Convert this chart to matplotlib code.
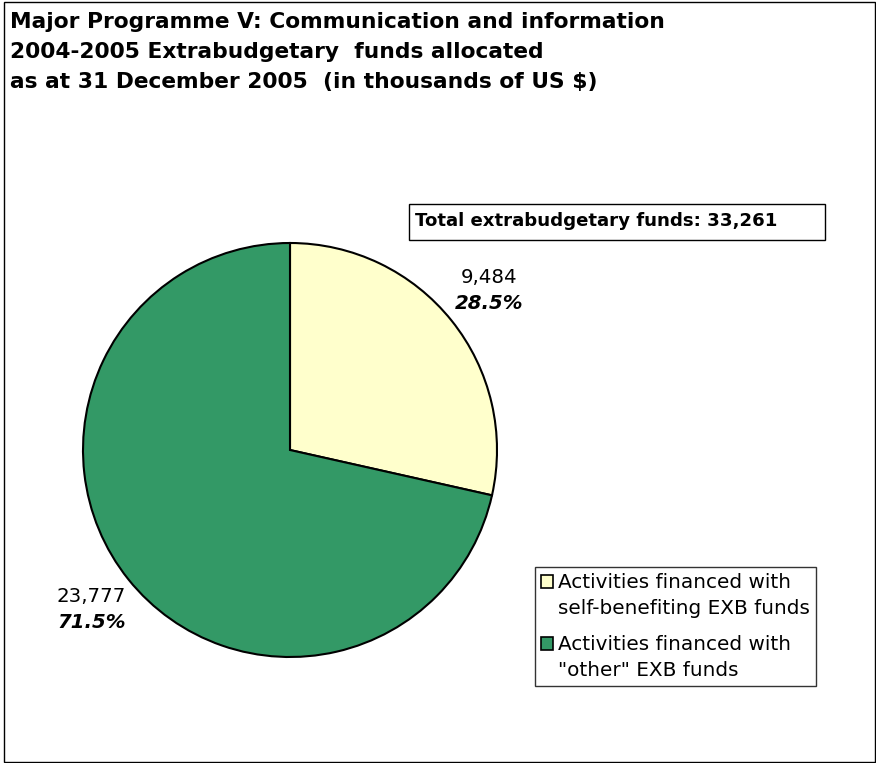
import numpy as np
import matplotlib
matplotlib.use("Agg")
import matplotlib.pyplot as plt
from matplotlib.patches import Rectangle
from matplotlib.legend_handler import HandlerPatch

plt.rcParams['font.family'] = ['DejaVu Sans']

# data
categories = ['Activities financed with\nself-benefiting EXB funds',
              'Activities financed with\n"other" EXB funds']
values = [9484, 23777]
value_labels = ['9,484', '23,777']
pct_labels = ['28.5%', '71.5%']
colors = ['#FFFFCC', '#339966']
title_lines = ['Major Programme V: Communication and information',
               '2004-2005 Extrabudgetary  funds allocated',
               'as at 31 December 2005  (in thousands of US $)']
total_text = 'Total extrabudgetary funds: 33,261'

W, H = 876, 763
fig = plt.figure(figsize=(W / 100, H / 100), dpi=100)

# outer frame
fig.patches.append(Rectangle((4 / W, 1 - 762 / H), 871 / W, 760 / H,
                             transform=fig.transFigure, fill=False,
                             edgecolor='black', linewidth=1))

# title
for i, line in enumerate(title_lines):
    fig.text(10 / W, 1 - (22 + 30 * i) / H, line, fontsize=15.7,
             fontweight='bold', va='center', ha='left')

# pie
ax = fig.add_axes([83 / W, 1 - 657 / H, 414 / W, 414 / H])
wedges, _ = ax.pie(values, colors=colors, startangle=90, counterclock=False,
                   wedgeprops=dict(edgecolor='black', linewidth=1.5))
ax.set_xlim(-1, 1)
ax.set_ylim(-1, 1)
ax.set_aspect('equal')
ax.axis('off')

for w, v, p in zip(wedges, value_labels, pct_labels):
    ang = np.deg2rad((w.theta1 + w.theta2) / 2)
    x, y = 1.23 * np.cos(ang), 1.23 * np.sin(ang)
    ax.text(x, y + 0.063, v, fontsize=14.2, ha='center', va='center')
    ax.text(x, y - 0.063, p, fontsize=14.2, ha='center', va='center',
            fontweight='bold', style='italic')

# total box
fig.text(415 / W, 1 - 221 / H, total_text, fontsize=13.1, fontweight='bold',
         ha='left', va='center')
fig.patches.append(Rectangle((409 / W, 1 - 240 / H), 416 / W, 36 / H,
                             transform=fig.transFigure, fill=False,
                             edgecolor='black', linewidth=1))


# legend square sits next to the first line of each label
def top_square(legend, orig_handle, xdescent, ydescent, width, height, fontsize):
    return Rectangle((-xdescent, -ydescent + 0.72 * fontsize), width, height)


leg = fig.legend(wedges, categories, loc='upper left',
                 bbox_to_anchor=(535 / W, 1 - 567 / H), fontsize=14.4,
                 frameon=True, fancybox=False, shadow=False,
                 handlelength=0.6, handleheight=0.6, handletextpad=0.25,
                 borderpad=0.3, labelspacing=0.8, borderaxespad=0,
                 handler_map={w: HandlerPatch(patch_func=top_square) for w in wedges})
leg.get_frame().set_edgecolor('black')
leg.get_frame().set_linewidth(1)
for h in leg.legend_handles:
    h.set_linewidth(1.2)
for t in leg.get_texts():
    t.set_linespacing(1.5)

fig.savefig('out.png', dpi=100)
